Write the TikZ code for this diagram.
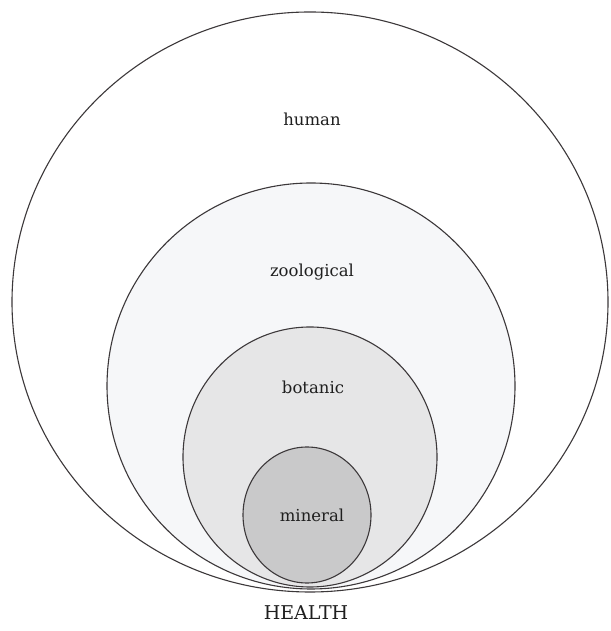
\documentclass[tikz,border=0pt]{standalone}
\usepackage{fontspec}
\setmainfont{DejaVu Serif}
\usepackage{tikz}
\usetikzlibrary{positioning}
\definecolor{ringline}{RGB}{60, 56, 58}
\definecolor{zoofill}{RGB}{246, 247, 249}
\definecolor{botfill}{RGB}{230, 230, 231}
\definecolor{minfill}{RGB}{201, 201, 202}

\begin{document}
\begin{tikzpicture}[
        x=1pt, y=1pt,
        ring/.style={draw=ringline, line width=1.1pt},
        lbl/.style={font=\fontsize{16.5}{20}\selectfont, text=black!88}
      ]
        \useasboundingbox (0,0) rectangle (610,631);

        % nested rings, all resting on the same bottom point
        \filldraw[ring, fill=white] (310,329) ellipse (298 and 290);
        \filldraw[ring, fill=zoofill] (311,245) ellipse (204 and 203);
        \filldraw[ring, fill=botfill] (310,174) ellipse (127 and 130);
        \filldraw[ring, fill=minfill] (307,116) ellipse (64 and 68);

        \node[lbl] (human) at (312,512) {human};
        \node[lbl] (zoo) at (312,359) {zoological};
        \node[lbl] (bot) at (313,244) {botanic};
        \node[lbl] (min) at (312,116) {mineral};
        \node[lbl, font=\fontsize{19}{23}\selectfont] (health) at (306,18) {HEALTH};
      \end{tikzpicture}
\end{document}
